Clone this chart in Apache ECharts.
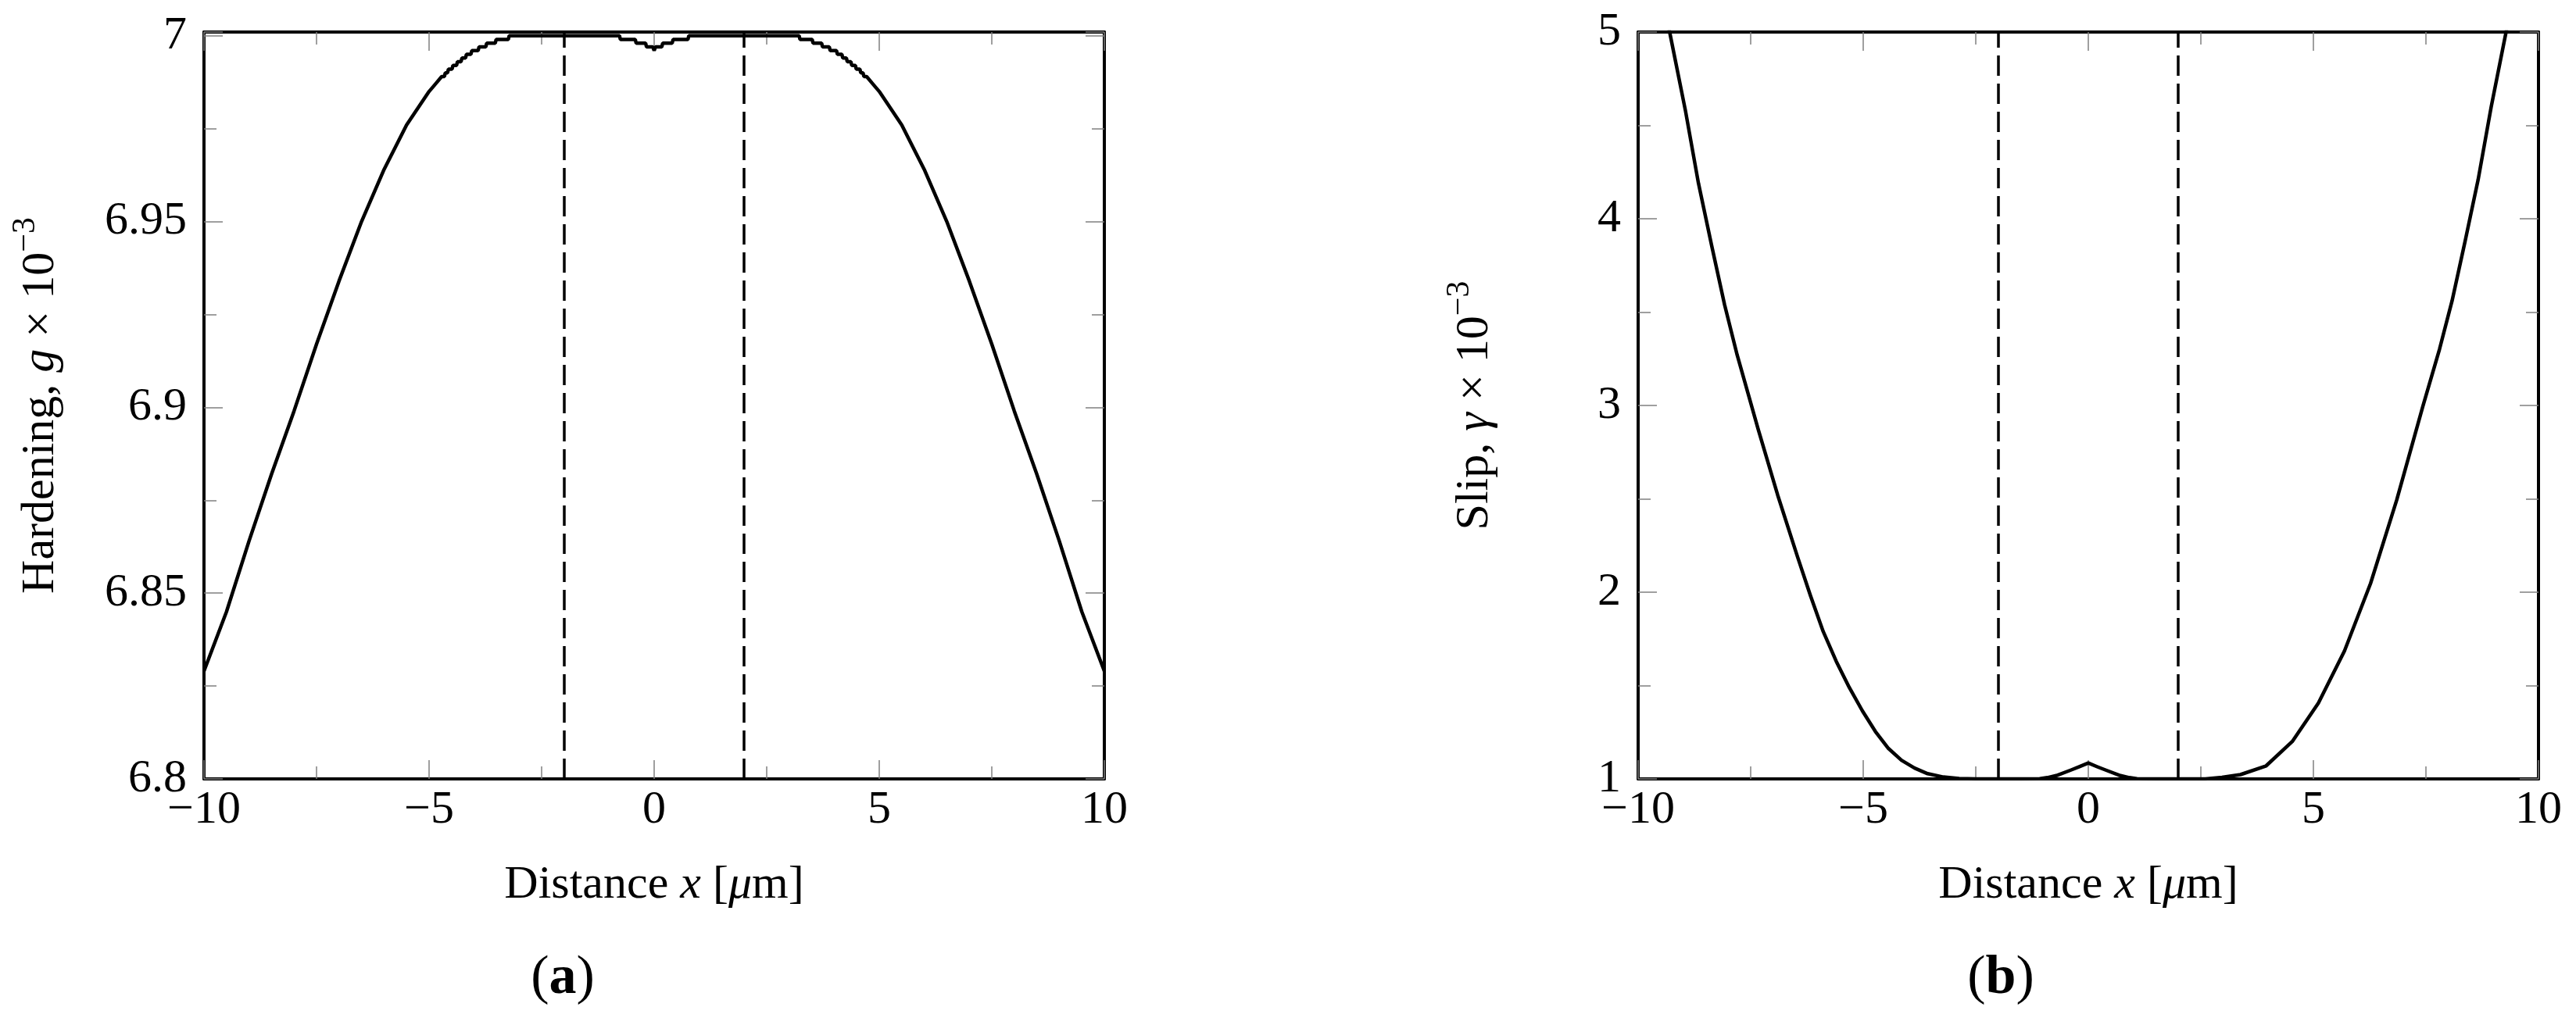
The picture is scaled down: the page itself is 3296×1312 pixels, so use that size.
<!DOCTYPE html>
<html lang="en">
<head>
  <meta charset="UTF-8">
  <title>Hardening and slip profiles</title>
  <style>
    html, body { margin: 0; padding: 0; background: #fff; }
    #chart { width: 3296px; height: 1312px; }
  </style>
</head>
<body>
<div id="chart"></div>
<script src="https://cdn.jsdelivr.net/npm/echarts@6/dist/echarts.min.js"></script>
<script>
  // (a) hardening g x 10^-3 against distance x [um] (values quantised to 0.001 near the top, hence the stairs)
  var hardX = [-10, -9.5, -9, -8.5, -8, -7.5, -7, -6.5, -6, -5.5, -5, -4.86, -4.72,
    -4.66, -4.64, -4.59, -4.57, -4.49, -4.47, -4.39, -4.37, -4.29, -4.27, -4.19, -4.17, -4.07, -4.05, -3.91, -3.89, -3.74, -3.72, -3.53, -3.51, -3.24, -3.22,
    -0.77, -0.75, -0.42, -0.40, -0.19, -0.17, -0.03, 0, 0.03, 0.17, 0.19, 0.40, 0.42, 0.75, 0.77,
    3.22, 3.24, 3.51, 3.53, 3.72, 3.74, 3.89, 3.91, 4.05, 4.07, 4.17, 4.19, 4.27, 4.29, 4.37, 4.39, 4.47, 4.49, 4.57, 4.59, 4.64, 4.66,
    4.72, 4.86, 5, 5.5, 6, 6.5, 7, 7.5, 8, 8.5, 9, 9.5, 10];
  var hardG = [6.829, 6.845, 6.864, 6.882, 6.899, 6.917, 6.934, 6.950, 6.964, 6.976, 6.985, 6.987, 6.989,
    6.989, 6.990, 6.990, 6.991, 6.991, 6.992, 6.992, 6.993, 6.993, 6.994, 6.994, 6.995, 6.995, 6.996, 6.996, 6.997, 6.997, 6.998, 6.998, 6.999, 6.999, 7.000,
    7.000, 6.999, 6.999, 6.998, 6.998, 6.997, 6.997, 6.996, 6.997, 6.997, 6.998, 6.998, 6.999, 6.999, 7.000,
    7.000, 6.999, 6.999, 6.998, 6.998, 6.997, 6.997, 6.996, 6.996, 6.995, 6.995, 6.994, 6.994, 6.993, 6.993, 6.992, 6.992, 6.991, 6.991, 6.990, 6.990, 6.989,
    6.989, 6.987, 6.985, 6.976, 6.964, 6.950, 6.934, 6.917, 6.899, 6.882, 6.864, 6.845, 6.829];

  // (b) slip gamma x 10^-3 against distance x [um]
  var slipX = [-10, -9.3, -8.95, -8.66, -8.37, -8.08, -7.8, -7.33, -6.9, -6.46,
    -6.17, -5.89, -5.6, -5.31, -5.02, -4.73, -4.44, -4.15, -3.86, -3.57,
    -3.22, -2.87, -2.5, -1.5, -1.08, -0.91, -0.68, -0.39, -0.2, 0,
    0.2, 0.39, 0.68, 0.91, 1.08, 1.5, 2.6, 2.97, 3.38, 3.95,
    4.53, 5.11, 5.69, 6.27, 6.85, 7.43, 7.8, 8.08, 8.37, 8.66,
    8.95, 9.28, 10];
  var slipG = [5.9, 5.0, 4.58, 4.19, 3.86, 3.54, 3.27, 2.87, 2.52, 2.19,
    1.98, 1.79, 1.63, 1.49, 1.365, 1.254, 1.163, 1.100, 1.058, 1.028,
    1.010, 1.002, 1.0, 1.0, 1.001, 1.007, 1.020, 1.047, 1.065, 1.085,
    1.065, 1.047, 1.020, 1.007, 1.001, 1.0, 1.0, 1.008, 1.023, 1.07,
    1.20, 1.406, 1.685, 2.047, 2.493, 2.994, 3.30, 3.56, 3.88, 4.21,
    4.60, 5.0, 5.9];

  // dashed guides
  var guideX = [-2, 2];

  var FONT = 'Liberation Serif';
  var TICK = { color: '#808080', width: 1.5 };

  function fmtX(v) {
    return v < 0 ? '\u2212' + (-v) : String(v);
  }
  function fmtHard(v) {
    var k = v * 20;
    if (Math.abs(k - Math.round(k)) > 1e-6) return '';
    return String(+v.toFixed(2));
  }

  function xAxes(grid) {
    var base = {
      gridIndex: grid, type: 'value', min: -10, max: 10, interval: 5,
      axisLine: { onZero: false, lineStyle: { color: '#000', width: 4 } },
      axisTick: { inside: true, length: 24, lineStyle: TICK },
      minorTick: { show: true, splitNumber: 2, length: 16, lineStyle: TICK },
      splitLine: { show: false }, minorSplitLine: { show: false }
    };
    var bottom = Object.assign({}, base, {
      position: 'bottom',
      axisLabel: { fontSize: 60, fontFamily: FONT, color: '#000', margin: 10, lineHeight: 60, formatter: fmtX },
      name: 'Distance {i|x} [{i|\u03bc}m]',
      nameLocation: 'middle',
      nameGap: 101,
      nameTextStyle: {
        fontSize: 60, fontFamily: FONT, color: '#000', lineHeight: 70,
        rich: { i: { fontSize: 60, fontFamily: FONT, fontStyle: 'italic', color: '#000', lineHeight: 70 } }
      }
    });
    var top = Object.assign({}, base, { position: 'top', axisLabel: { show: false } });
    return [bottom, top];
  }

  function yAxes(grid, min, max, interval, fmt, title) {
    var base = {
      gridIndex: grid, type: 'value', min: min, max: max, interval: interval,
      axisLine: { onZero: false, lineStyle: { color: '#000', width: 4 } },
      axisTick: { inside: true, length: 24, lineStyle: TICK },
      minorTick: { show: true, splitNumber: 2, length: 16, lineStyle: TICK },
      splitLine: { show: false }, minorSplitLine: { show: false }
    };
    var left = Object.assign({}, base, {
      position: 'left',
      axisLabel: { fontSize: 60, fontFamily: FONT, color: '#000', margin: 22, formatter: fmt },
      name: title,
      nameLocation: 'middle',
      nameGap: 169,
      nameTextStyle: {
        fontSize: 60, fontFamily: FONT, color: '#000', lineHeight: 80,
        rich: {
          i: { fontSize: 60, fontFamily: FONT, fontStyle: 'italic', color: '#000', lineHeight: 80 },
          s: { fontSize: 42, fontFamily: FONT, color: '#000', lineHeight: 50, verticalAlign: 'top' }
        }
      }
    });
    var right = Object.assign({}, base, { position: 'right', axisLabel: { show: false } });
    return [left, right];
  }

  var xs = xAxes(0).concat(xAxes(1));
  var ys = yAxes(0, 6.8, 7.001, 0.05, fmtHard, 'Hardening, {i|g} \u00d7 10{s|\u22123}')
    .concat(yAxes(1, 1, 5, 1, function (v) { return String(v); }, 'Slip, {i|\u03b3} \u00d7 10{s|\u22123}'));

  var guides = {
    symbol: 'none', silent: true, animation: false,
    label: { show: false },
    lineStyle: { color: '#000', width: 3.5, type: [26, 10] },
    data: guideX.map(function (x) { return { xAxis: x }; })
  };

  var option = {
    animation: false,
    backgroundColor: '#fff',
    grid: [
      { left: 261, top: 41, width: 1152, height: 956, outerBoundsMode: 'none' },
      { left: 2096, top: 41, width: 1152, height: 956, outerBoundsMode: 'none' }
    ],
    xAxis: xs,
    yAxis: ys,
    series: [
      {
        type: 'line', xAxisIndex: 0, yAxisIndex: 0,
        data: hardX.map(function (x, i) { return [x, hardG[i]]; }),
        showSymbol: false, symbol: 'none',
        lineStyle: { color: '#000', width: 4.5 },
        markLine: guides
      },
      {
        type: 'line', xAxisIndex: 2, yAxisIndex: 2,
        data: slipX.map(function (x, i) { return [x, slipG[i]]; }),
        showSymbol: false, symbol: 'none',
        lineStyle: { color: '#000', width: 4.5, join: 'round' },
        markLine: guides
      }
    ],
    graphic: [
      {
        type: 'text', x: 720, y: 1253,
        style: {
          text: '{p|(}{b|a}{p|)}', align: 'center', verticalAlign: 'middle',
          rich: { p: { fontSize: 70, fontFamily: FONT, fill: '#000' }, b: { fontSize: 70, fontFamily: FONT, fontWeight: 'bold', fill: '#000' } }
        }
      },
      {
        type: 'text', x: 2560, y: 1253,
        style: {
          text: '{p|(}{b|b}{p|)}', align: 'center', verticalAlign: 'middle',
          rich: { p: { fontSize: 70, fontFamily: FONT, fill: '#000' }, b: { fontSize: 70, fontFamily: FONT, fontWeight: 'bold', fill: '#000' } }
        }
      }
    ]
  };

  var myChart = echarts.init(document.getElementById('chart'));
  myChart.setOption(option);
</script>
</body>
</html>
